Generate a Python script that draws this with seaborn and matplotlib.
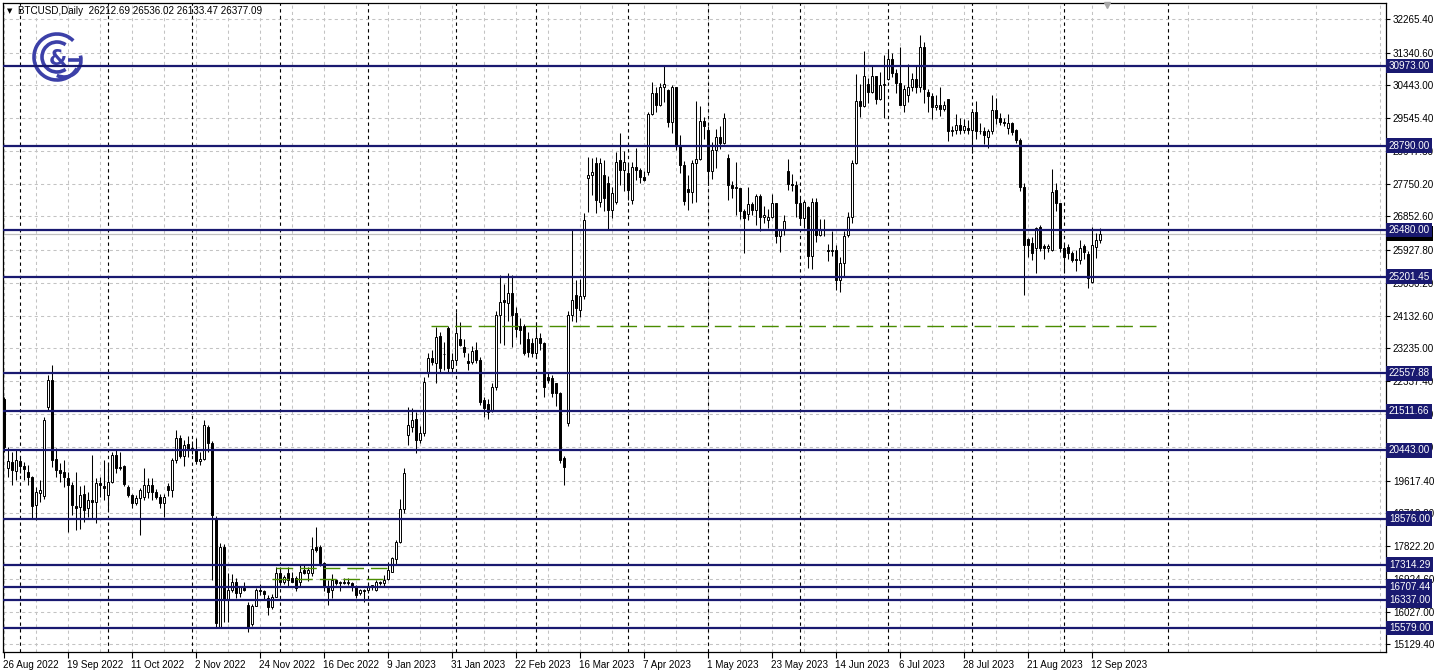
import numpy as np
import pandas as pd
import matplotlib
matplotlib.use("Agg")
import matplotlib.pyplot as plt
import matplotlib.transforms as mtransforms
from matplotlib.patches import Arc
import seaborn as sns

# ---------------------------------------------------------------- data
symbol = "BTCUSD,Daily"
first_day = "2022-08-26"
last_day = "2023-09-14"

# weekday bars, one row per week (Mon..Fri)
opens = [
    21850,
    19953, 20135, 19889, 20154, 20017,
    19862, 19707, 18948, 19280, 19195,
    21640, 22372, 20200, 19907, 19860,
    19679, 19497, 18921, 18903, 19250,
    18857, 19086, 19040, 19542, 19469,
    19223, 19588, 20318, 19953, 20017,
    19451, 19223, 18994, 19131, 19159,
    19314, 19497, 19314, 19177, 18994,
    19469, 19360, 20181, 20770, 20290,
    20630, 20490, 20480, 20160, 20210,
    21094, 20638, 18584, 15616, 17808,
    16347, 16621, 16849, 16529, 16667,
    16210, 15700, 16190, 16610, 16600,
    16393, 16164, 16438, 17077, 16849,
    17077, 16940, 16940, 16849, 17170,
    17080, 17077, 17789, 17808, 17351,
    16712, 16620, 16895, 16810, 16830,
    16800, 16803, 16712, 16530, 16620,
    16620, 16712, 16621, 16849, 16803,
    16913, 17123, 17461, 17940, 18850,
    20866, 21094, 21295, 20729, 20912,
    22555, 22966, 22829, 23578, 23080,
    23787, 22692, 22920, 23486, 23285,
    22902, 22874, 23194, 22920, 21824,
    21715, 21550, 22190, 24153, 24560,
    24472, 24746, 24198, 23851, 23851,
    23500, 23376, 23102, 23513, 23376,
    22463, 22418, 22281, 22007, 20227,
    21190, 24150, 24700, 24290, 24680,
    27896, 27987, 28307, 27257, 27987,
    27759, 27029, 27257, 28398, 28124,
    28033, 27303, 28216, 28124, 27942,
    28078, 29650, 30240, 29900, 30390,
    30320, 29430, 30400, 28820, 28250,
    27600, 27520, 28310, 28420, 29470,
    29230, 28090, 28680, 29030, 28850,
    28450, 27700, 27630, 27630, 27000,
    26930, 27190, 27040, 27400, 26830,
    26750, 26850, 27230, 26330, 26480,
    28090, 27750, 27700, 27220, 26820,
    27120, 25760, 27240, 26350, 26500,
    25940, 25900, 25920, 25120, 25580,
    26340, 26850, 28310, 30010, 29890,
    30470, 30270, 30700, 30080, 30450,
    30620, 31160, 30770, 30510, 29900,
    30170, 30410, 30620, 30390, 31480,
    30250, 30140, 29860, 29910, 29800,
    30080, 29180, 29230, 29350, 29220,
    29280, 29230, 29700, 29180, 29180,
    29040, 29180, 29770, 29560, 29430,
    29280, 29400, 29220, 28946, 27668,
    26225, 26116, 25979, 26573, 26030,
    25979, 25933, 27577, 27212, 25979,
    26024, 25842, 25680, 25659, 26030,
    25823, 25066, 26024, 26212.69,
]
highs = [
    21900,
    20546, 20410, 20455, 20272, 20135,
    20044, 19750, 19451, 19633, 21368,
    22510, 22783, 20501, 20090, 20180,
    19862, 19588, 19862, 19469, 19497,
    19314, 20318, 19679, 19725, 20181,
    20090, 20410, 20455, 20410, 20040,
    19500, 19260, 19220, 19405, 19953,
    19680, 19680, 19400, 19260, 19260,
    19540, 20227, 21000, 20860, 20720,
    20840, 20690, 20780, 20390, 21280,
    21150, 20700, 18650, 17900, 17870,
    17077, 17070, 16950, 16740, 16850,
    16290, 16250, 16670, 16780, 16610,
    16480, 16520, 17260, 17260, 17040,
    17260, 17110, 17000, 17300, 17300,
    17240, 18081, 18355, 17840, 17400,
    16890, 17060, 16920, 16880, 16950,
    16940, 16850, 16760, 16650, 16660,
    16780, 16760, 16900, 16880, 17020,
    17390, 17520, 17990, 19100, 19950,
    21642, 21600, 21500, 21100, 22463,
    23100, 23190, 23830, 23700, 23400,
    23850, 23100, 24244, 23950, 23500,
    23100, 23300, 23400, 23000, 21900,
    21850, 22300, 24250, 25248, 25000,
    25294, 25250, 24380, 24060, 23900,
    23700, 23510, 23970, 23650, 23400,
    22560, 22510, 22300, 22050, 20300,
    24250, 26480, 25100, 25150, 26940,
    28490, 28450, 28490, 28450, 28400,
    27950, 27650, 28630, 29130, 28640,
    28300, 28350, 28730, 28170, 28090,
    29720, 30530, 30390, 30510, 31000,
    30350, 30460, 30410, 29080, 28370,
    28000, 28390, 30020, 29880, 29570,
    29330, 28880, 29240, 29340, 29680,
    28550, 27820, 28330, 27640, 27060,
    27650, 27260, 27460, 27480, 27140,
    27050, 27480, 27230, 26520, 26890,
    28430, 28020, 27820, 27350, 27300,
    27140, 27360, 27360, 26790, 26790,
    26090, 26440, 26080, 25750, 26460,
    26970, 28390, 30760, 30480, 31390,
    30640, 31010, 30700, 30820, 31270,
    31380, 31320, 30880, 31500, 30440,
    31030, 30790, 30960, 31810, 31630,
    30340, 30220, 30190, 30400, 30010,
    30080, 29320, 29660, 29550, 29520,
    29480, 29700, 30010, 29400, 29300,
    29240, 30180, 30100, 29680, 29540,
    29650, 29450, 29260, 28990, 27760,
    26250, 26300, 26570, 26620, 26100,
    26100, 28143, 27760, 27212, 26100,
    26100, 25900, 25940, 26200, 26100,
    25900, 26560, 26390, 26536.02,
]
lows = [
    20400,
    19725, 19497, 19633, 19816, 19633,
    19497, 18583, 18538, 19040, 19100,
    21550, 20000, 19725, 19588, 19450,
    18218, 18675, 18264, 18300, 18492,
    18629, 18584, 18447, 19177, 19086,
    18812, 19542, 19816, 19907, 19470,
    19180, 18857, 18950, 18127, 19086,
    19140, 19090, 19100, 18860, 18629,
    19200, 19177, 20100, 20240, 20020,
    20260, 20350, 20080, 20050, 20190,
    20400, 16900, 15570, 15600, 15753,
    15753, 16560, 16400, 16420, 16600,
    15480, 15630, 16170, 16470, 16360,
    15936, 16110, 16430, 16800, 16790,
    16720, 16880, 16600, 16740, 17050,
    16870, 17000, 17660, 17290, 16580,
    16210, 16400, 16760, 16600, 16780,
    16760, 16600, 16400, 16480, 16300,
    16550, 16620, 16600, 16750, 16690,
    16900, 17100, 17320, 17920, 18740,
    20592, 20950, 20364, 20650, 20850,
    22450, 22780, 22280, 22600, 22650,
    22600, 22600, 22800, 23300, 23000,
    22650, 22800, 22850, 21700, 21368,
    21300, 21500, 22100, 23376, 23330,
    24000, 23280, 23560, 23370, 23050,
    23000, 23010, 23010, 23200, 21915,
    22300, 21915, 21650, 20100, 19496,
    21100, 24000, 23950, 24100, 24600,
    26983, 27450, 26940, 27100, 27000,
    26480, 26800, 27200, 27700, 27560,
    27300, 27200, 27840, 27770, 27820,
    28000, 29620, 29720, 29880, 29980,
    29290, 29150, 28660, 28050, 27160,
    27040, 27230, 27260, 28410, 28960,
    27700, 27880, 28180, 28690, 28830,
    27300, 27370, 26900, 26770, 25850,
    26760, 26880, 26620, 26460, 26680,
    26540, 26820, 26130, 25890, 26340,
    27580, 27560, 26850, 26620, 26540,
    25440, 25420, 26150, 26320, 26330,
    25640, 25770, 24850, 24790, 25180,
    26280, 26660, 28290, 29570, 29840,
    29960, 30240, 29920, 30040, 29540,
    30590, 30670, 30220, 29900, 29720,
    29990, 30300, 30230, 30260, 29950,
    29700, 29530, 29770, 29600, 29730,
    28910, 29060, 29120, 29110, 29130,
    29110, 28600, 28970, 29100, 28830,
    28730, 29120, 29380, 29370, 29330,
    29120, 29070, 28850, 27550, 24700,
    25750, 25650, 25294, 25900, 25700,
    25880, 25900, 27000, 25880, 25294,
    25700, 25600, 25350, 25550, 25700,
    24883, 25020, 25705, 26133.47,
]
closes = [
    20546,
    20154, 19907, 20181, 20017, 19944,
    19707, 18921, 19314, 19360, 21277,
    22372, 20181, 19907, 19816, 19725,
    19497, 18949, 18876, 19223, 18812,
    19086, 19040, 19542, 19497, 19405,
    19588, 20318, 19953, 19999, 19524,
    19223, 18994, 19131, 19360, 19497,
    19497, 19314, 19177, 18994, 19177,
    19360, 20181, 20770, 20290, 20590,
    20490, 20480, 20160, 20210, 21150,
    20638, 18675, 15708, 17808, 16347,
    16621, 16849, 16529, 16712, 16621,
    15616, 16190, 16610, 16600, 16520,
    16164, 16438, 17077, 16849, 16986,
    16895, 16849, 16666, 17123, 17080,
    17170, 17735, 17716, 17351, 16712,
    16575, 16895, 16803, 16830, 16800,
    16830, 16712, 16484, 16620, 16600,
    16712, 16750, 16849, 16803, 16895,
    17168, 17488, 17940, 18850, 19816,
    21140, 21277, 20729, 20912, 22327,
    22966, 22874, 23559, 22692, 23075,
    22692, 22920, 23669, 23331, 23148,
    22847, 23176, 22920, 21778, 21596,
    21505, 22190, 24153, 24518, 24500,
    24746, 24153, 23760, 23742, 23102,
    23150, 23102, 23513, 23376, 22190,
    22372, 22007, 22007, 20181, 19999,
    24153, 24560, 24340, 24680, 26755,
    27987, 28078, 27300, 28307, 27348,
    27029, 27485, 28353, 28124, 28353,
    27577, 28216, 28124, 27942, 27850,
    29650, 30240, 29900, 30390, 30490,
    29430, 30400, 28820, 28250, 27270,
    27520, 28310, 28420, 29470, 29340,
    28090, 28680, 29030, 28850, 29540,
    27700, 27630, 27630, 27000, 26800,
    27190, 27040, 27400, 26830, 26890,
    26850, 27230, 26330, 26480, 26720,
    27750, 27700, 27220, 26820, 27250,
    25760, 27240, 26350, 26500, 26480,
    25900, 25920, 25120, 25580, 26330,
    26850, 28310, 30010, 29890, 30700,
    30270, 30700, 30080, 30450, 30480,
    31160, 30770, 30510, 29900, 30350,
    30410, 30620, 30390, 31480, 30330,
    30140, 29860, 29910, 29800, 29910,
    29180, 29230, 29350, 29220, 29320,
    29230, 29700, 29180, 29180, 29070,
    29180, 29770, 29560, 29430, 29400,
    29400, 29170, 28946, 27668, 26070,
    26070, 25842, 26527, 25979, 25979,
    26030, 27531, 27212, 25979, 25751,
    25842, 25660, 25660, 25979, 25870,
    25157, 26070, 26207, 26377.09,
]

# horizontal support / resistance levels drawn on the chart
levels = [30973.00, 28790.00, 26480.00, 25201.45, 22557.88, 21511.66,
          20443.00, 18576.00, 17314.29, 16707.44, 16337.00, 15579.00]
last_price = 26377.09

# green dashed trend marks: (price, first bar, last bar)
green_marks = [(23843, 106.75, 289.75), (17215, 68.0, 95.7), (16914, 67.0, 95.7)]

# price scale labels on the right
price_ticks = [32265.40, 31340.60, 30443.00, 29545.40, 28647.80, 27750.20,
               26852.60, 25927.80, 25030.20, 24132.60, 23235.00, 22337.40,
               21439.80, 20542.20, 19617.40, 18719.80, 17822.20, 16924.60,
               16027.00, 15129.40]
label_step = 16          # bars between date labels
grid_step = 8            # bars between vertical grid lines
future_separator = 291   # month separator drawn in the empty area

# ---------------------------------------------------------------- style
sns.set_theme(style="white")
plt.rcParams["font.family"] = ["Liberation Sans", "DejaVu Sans"]

NAVY = "#191970"
GRID = "#c3c3c3"
GREEN = "#4a8c00"
LOGO = "#3c40a8"
FS = 7.1

W, H = 1438, 671
fig = plt.figure(figsize=(W / 100, H / 100), dpi=100, facecolor="white")
ax = fig.add_axes([2.7 / W, (H - 652) / H, (1386 - 2.7) / W, (652 - 2.5) / H])
ax.set_facecolor("white")

dates = pd.bdate_range(first_day, last_day)
df = pd.DataFrame({"open": opens, "high": highs, "low": lows, "close": closes},
                  index=dates)
df["x"] = np.arange(len(df))
up = df["close"] >= df["open"]

# axes, ticks and grid
ax.set_xlim(-0.33, 345.5)
ax.set_ylim(14922, 32712)
ax.set_yticks(price_ticks)
ax.set_yticklabels([f"{v:.2f}" for v in price_ticks])
xt = np.arange(0, len(df), label_step)
ax.set_xticks(xt)
ax.set_xticklabels([f"{d.day} {d:%b %Y}" for d in dates[xt]], ha="left")
ax.set_xticks(np.arange(grid_step, 345, label_step), minor=True)
ax.grid(True, which="both", axis="x", color=GRID, lw=0.75, ls=(0, (3, 3)))
ax.grid(True, which="major", axis="y", color=GRID, lw=0.75, ls=(0, (3, 3)))
ax.set_axisbelow(True)

ax.yaxis.tick_right()
ax.tick_params(axis="y", which="major", right=True, length=3, width=0.8,
               pad=2, labelsize=FS, colors="black", direction="out")
ax.tick_params(axis="x", which="major", bottom=True, length=4, width=0.8,
               pad=2, labelsize=FS, colors="black", direction="out")
ax.tick_params(axis="x", which="minor", length=0)
offset = mtransforms.ScaledTranslation(-1 / 100, 0, fig.dpi_scale_trans)
for lab in ax.get_xticklabels():
    lab.set_transform(lab.get_transform() + offset)
for sp in ax.spines.values():
    sp.set_color("black")
    sp.set_linewidth(0.9)

# month separators
month_first = df.groupby([dates.year, dates.month])["x"].min().values[1:]
for xs in list(month_first) + [future_separator]:
    ax.axvline(xs, color="black", lw=0.8, ls=(0, (3, 3)), zorder=1)

# current price line
ax.axhline(last_price, color="#c0c0c0", lw=0.9, zorder=1.5)

# candles
ax.vlines(df["x"], df["low"], df["high"], color="black", lw=0.75, zorder=3)
body_lo = np.minimum(df["open"], df["close"])
body_h = np.maximum((df["close"] - df["open"]).abs(), 20)
ax.bar(df["x"][up], body_h[up], bottom=body_lo[up], width=0.55,
       color="white", edgecolor="black", lw=0.7, zorder=3.2)
ax.bar(df["x"][~up], body_h[~up], bottom=body_lo[~up], width=0.55,
       color="black", edgecolor="black", lw=0.7, zorder=3.2)

# levels
for lv in levels:
    ax.axhline(lv, color=NAVY, lw=1.6, zorder=4)
for price, x0, x1 in green_marks:
    ax.hlines(price, x0, x1, color=GREEN, lw=1.0, ls=(0, (12, 5)), zorder=4)

# right-hand price boxes
ytrans = mtransforms.blended_transform_factory(ax.transAxes, ax.transData)
ax.text(1.002, last_price, f"{last_price:.2f}", transform=ytrans, fontsize=FS,
        color="white", va="center", ha="left", clip_on=False, zorder=6,
        bbox=dict(boxstyle="square,pad=0.25", fc="black", ec="none"))
for lv in levels:
    ax.text(1.002, lv, f"{lv:.2f}", transform=ytrans, fontsize=FS,
            color="white", va="center", ha="left", clip_on=False, zorder=7,
            bbox=dict(boxstyle="square,pad=0.25", fc=NAVY, ec="none"))

# chart-shift marker
ax.plot(275.75, 32640, marker="v", color="#a8a8a8", ms=5, clip_on=False, zorder=5)

# header
fig.text(7 / W, 1 - 11 / H, "\u25BC", fontsize=5, family="DejaVu Sans",
         va="center", ha="left", color="black")
fig.text(18 / W, 1 - 11 / H,
         f"{symbol}  {opens[-1]:.2f} {highs[-1]:.2f} {lows[-1]:.2f} {closes[-1]:.2f}",
         fontsize=FS, va="center", ha="left", color="black")

# logo, in pixel units with origin at pixel (28, 86) counted from the top-left
pix = mtransforms.Affine2D().translate(28, H - 86)
logo_arcs = [Arc((29, 29), 46, 46, theta1=45, theta2=330, lw=2.6),
             Arc((29, 29), 30, 30, theta1=55, theta2=305, lw=2.6),
             Arc((36, 26), 34, 34, theta1=-115, theta2=15, lw=2.6)]
for arc in logo_arcs:
    arc.set_color(LOGO)
    arc.set_transform(pix)
    arc.set_clip_on(False)
    arc.set_zorder(2)
    ax.add_patch(arc)
ax.plot([40, 54], [26, 26], color=LOGO, lw=2.6, transform=pix, clip_on=False,
        zorder=2, solid_capstyle="butt")
ax.text(30, 27, "&", transform=pix, fontsize=15, fontweight="bold", color=LOGO,
        ha="center", va="center", family="DejaVu Sans", zorder=2)

fig.savefig("out.png", dpi=100, facecolor="white")
